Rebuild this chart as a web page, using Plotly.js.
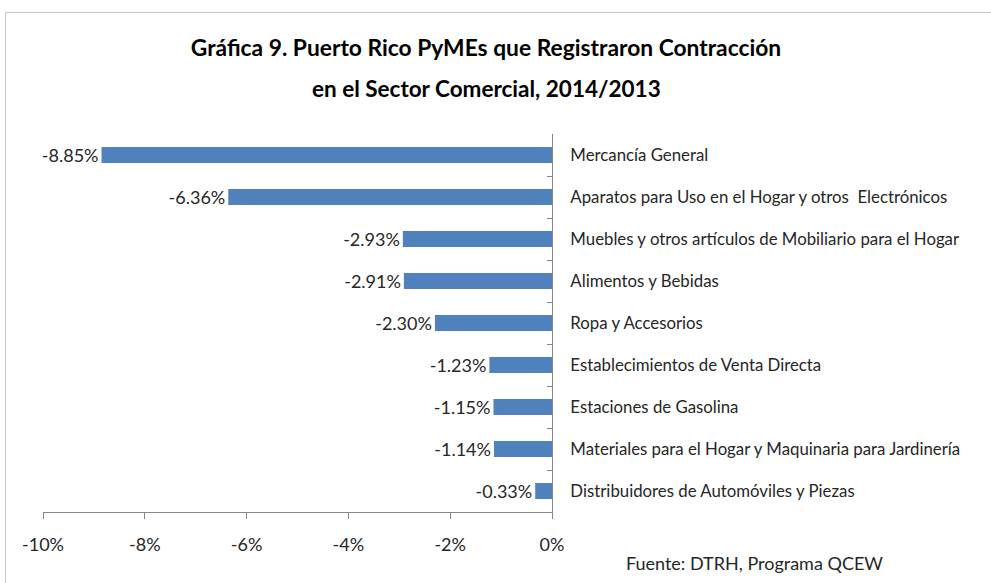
<!DOCTYPE html>
<html>
<head>
<meta charset="utf-8">
<script src="https://cdn.plot.ly/plotly-3.0.1.min.js"></script>
<style>html,body{margin:0;padding:0;background:#fff;}#chart{width:991px;height:583px;}</style>
</head>
<body>
<div id="chart"></div>
<script>
const categories = [
  "Mercancía General",
  "Aparatos para Uso en el Hogar y otros  Electrónicos",
  "Muebles y otros artículos de Mobiliario para el Hogar",
  "Alimentos y Bebidas",
  "Ropa y Accesorios",
  "Establecimientos de Venta Directa",
  "Estaciones de Gasolina",
  "Materiales para el Hogar y Maquinaria para Jardinería",
  "Distribuidores de Automóviles y Piezas"
];
const values = [-8.85, -6.36, -2.93, -2.91, -2.30, -1.23, -1.15, -1.14, -0.33];
const xTickVals = [-10, -8, -6, -4, -2, 0];
const xTickText = ["-10%", "-8%", "-6%", "-4%", "-2%", "0%"];
const titleLine1 = "Gráfica 9. Puerto Rico PyMEs que Registraron Contracción";
const titleLine2 = "en el Sector Comercial, 2014/2013";
const sourceNote = "Fuente: DTRH, Programa QCEW";

const FONT = "Lato, 'Open Sans', sans-serif";
const W = 991, H = 583;
const L = 43, R = 552, T = 134, B = 512;
const px2x = p => (p - L) / (R - L);
const px2y = p => (B - p) / (B - T);

const trace = {
  type: "bar",
  orientation: "h",
  x: values,
  y: categories,
  marker: {color: "#4F81BD"},
  text: values.map(v => v.toFixed(2) + "%"),
  textposition: "outside",
  constraintext: "none",
  cliponaxis: false,
  textfont: {family: FONT, size: 18, color: "#262626"},
  hoverinfo: "skip"
};

const layout = {
  width: W, height: H,
  margin: {l: L, r: W - R, t: T, b: H - B, pad: 0},
  paper_bgcolor: "#ffffff",
  plot_bgcolor: "#ffffff",
  showlegend: false,
  bargap: 0.62,
  font: {family: FONT, color: "#262626"},
  title: {
    text: "<b>" + titleLine1 + "</b>",
    font: {family: FONT, size: 22.8, color: "#000000"},
    x: 486 / W, xanchor: "center", xref: "container",
    y: 1 - 48 / H, yanchor: "middle", yref: "container"
  },
  xaxis: {
    range: [-10, 0],
    tickvals: xTickVals,
    ticktext: xTickText,
    ticks: "outside",
    ticklen: 6,
    tickcolor: "#868686",
    showline: true,
    linecolor: "#868686",
    linewidth: 1,
    showgrid: false,
    zeroline: false,
    ticklabelstandoff: 10,
    tickfont: {family: FONT, size: 18, color: "#262626"},
    fixedrange: true
  },
  yaxis: {
    type: "category",
    autorange: "reversed",
    side: "right",
    showline: true,
    linecolor: "#868686",
    linewidth: 1,
    ticks: "inside",
    tickson: "boundaries",
    ticklen: 5,
    tickcolor: "#868686",
    showgrid: false,
    zeroline: false,
    ticklabelstandoff: 14,
    tickfont: {family: FONT, size: 16.8, color: "#262626"},
    fixedrange: true
  },
  annotations: [
    {
      text: "<b>" + titleLine2 + "</b>",
      xref: "paper", yref: "paper",
      x: px2x(486), y: px2y(88),
      xanchor: "center", yanchor: "middle",
      showarrow: false,
      font: {family: FONT, size: 22.5, color: "#000000"}
    },
    {
      text: sourceNote,
      xref: "paper", yref: "paper",
      x: px2x(624), y: px2y(563),
      xanchor: "left", yanchor: "middle",
      showarrow: false,
      font: {family: FONT, size: 18, color: "#262626"}
    }
  ],
  shapes: [
    {
      type: "rect", xref: "paper", yref: "paper",
      x0: px2x(5.5), x1: px2x(1005), y0: px2y(600), y1: px2y(12.5),
      line: {color: "#c6c6c6", width: 1},
      fillcolor: "rgba(0,0,0,0)",
      layer: "below"
    }
  ]
};

Plotly.newPlot("chart", [trace], layout, {staticPlot: true, displayModeBar: false});
</script>
</body>
</html>
